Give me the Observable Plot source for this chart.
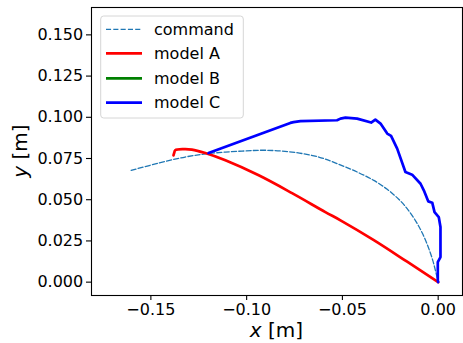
<!DOCTYPE html>
<html>
<head>
<meta charset="utf-8">
<script src="https://cdn.jsdelivr.net/npm/d3@7"></script>
<script src="https://cdn.jsdelivr.net/npm/@observablehq/plot@0.6"></script>
<style>
  html, body { margin: 0; padding: 0; background: #fff; }
  #chart { position: relative; width: 463px; height: 343px; }
</style>
</head>
<body>
<div id="chart"></div>
<script>
// Commanded end-effector path (dashed) and the tracked paths of each model, in metres.
const commandX = [-0.1603, -0.1460, -0.1321, -0.1199, -0.1024, -0.0902, -0.0763, -0.0624, -0.0519, -0.0423, -0.0336, -0.0266, -0.0206, -0.0162, -0.0118, -0.0083, -0.0052, -0.0029, -0.0012, 0.0];
const commandY = [0.0678, 0.0722, 0.0759, 0.0780, 0.0795, 0.0800, 0.0789, 0.0759, 0.0715, 0.0668, 0.0617, 0.0563, 0.0503, 0.0446, 0.0372, 0.0298, 0.0213, 0.0135, 0.0060, 0.0];

const modelAX = [-0.1382, -0.1378, -0.1373, -0.1329, -0.1286, -0.1216, -0.1111, -0.0937, -0.0763, -0.0589, -0.0510, -0.0336, -0.0162, 0.0];
const modelAY = [0.0769, 0.0785, 0.0800, 0.0807, 0.0804, 0.0783, 0.0739, 0.0648, 0.0540, 0.0425, 0.0375, 0.0255, 0.0124, 0.0];

const modelBX = [];
const modelBY = [];

const modelCX = [-0.1199, -0.0772, -0.0755, -0.0719, -0.0528, -0.0510, -0.0484, -0.0423, -0.0350, -0.0328, -0.0301, -0.0266, -0.0246, -0.0214, -0.0171, -0.0136, -0.0092, -0.0075, -0.0052, -0.0031, -0.0019, 0.0003, 0.0012, 0.0012, 0.0012, -0.0002, -0.0002, 0.0];
const modelCY = [0.0783, 0.0966, 0.0971, 0.0977, 0.0982, 0.0992, 0.0998, 0.0992, 0.0968, 0.0986, 0.0962, 0.0901, 0.0887, 0.0810, 0.0668, 0.0652, 0.0597, 0.0557, 0.0490, 0.0482, 0.0425, 0.0395, 0.0334, 0.0240, 0.0152, 0.0121, 0.0010, 0.0];

const seriesNames = ["command", "model A", "model B", "model C"];
const seriesColors = ["#1f77b4", "red", "green", "blue"];

const xTicks = [-0.15, -0.10, -0.05, 0.00];
const yTicks = [0.000, 0.025, 0.050, 0.075, 0.100, 0.125, 0.150];

const toRows = (xs, ys) => xs.map((x, i) => ({x, y: ys[i]}));
const command = toRows(commandX, commandY);
const modelA = toRows(modelAX, modelAY);
const modelB = toRows(modelBX, modelBY);
const modelC = toRows(modelCX, modelCY);

const W = 463, H = 343;
const mL = 91, mR = 1, mT = 7, mB = 48;
const font = "'DejaVu Sans', sans-serif";

const plot = Plot.plot({
  width: W,
  height: H,
  marginLeft: mL,
  marginRight: mR,
  marginTop: mT,
  marginBottom: mB,
  style: {fontFamily: font, fontSize: "16px", background: "#fff", color: "#000", overflow: "visible"},
  x: {domain: [-0.181, 0.0127], label: null},
  y: {domain: [-0.0081, 0.1666], label: null},
  marks: [
    Plot.line(command, {x: "x", y: "y", stroke: seriesColors[0], strokeWidth: 1.3, strokeDasharray: "5.1,2.2", curve: "catmull-rom"}),
    Plot.line(modelA, {x: "x", y: "y", stroke: seriesColors[1], strokeWidth: 2.7, curve: "catmull-rom"}),
    Plot.line(modelB, {x: "x", y: "y", stroke: seriesColors[2], strokeWidth: 2.7}),
    Plot.line(modelC, {x: "x", y: "y", stroke: seriesColors[3], strokeWidth: 2.7}),
    Plot.frame({stroke: "#000", strokeWidth: 1.1}),
    Plot.axisX({ticks: xTicks, tickFormat: d3.format(".2f"), tickSize: 5, tickPadding: 3.5, label: null, strokeWidth: 1.1}),
    Plot.axisY({ticks: yTicks, tickFormat: d3.format(".3f"), tickSize: 5, tickPadding: 3.3, label: null, strokeWidth: 1.1})
  ]
});

document.getElementById("chart").appendChild(plot);

// Axis titles with an italic variable name, and the legend in the upper left.
const svg = d3.select(plot);
const cx = mL + (W - mL - mR) / 2;
const cy = mT + (H - mT - mB) / 2;

const xl = svg.append("text")
  .attr("x", cx).attr("y", 337)
  .attr("text-anchor", "middle")
  .attr("font-family", font).attr("font-size", 20).attr("fill", "#000");
xl.append("tspan").attr("font-style", "italic").text("x");
xl.append("tspan").text(" [m]");

const yl = svg.append("text")
  .attr("transform", `translate(27,${cy}) rotate(-90)`)
  .attr("text-anchor", "middle")
  .attr("font-family", font).attr("font-size", 20).attr("fill", "#000");
yl.append("tspan").attr("font-style", "italic").text("y");
yl.append("tspan").text(" [m]");

const lg = svg.append("g");
lg.append("rect")
  .attr("x", 100.7).attr("y", 16).attr("width", 142.6).attr("height", 102)
  .attr("rx", 3).attr("fill", "#fff").attr("fill-opacity", 0.8)
  .attr("stroke", "#d6d6d6").attr("stroke-width", 1);
const rowsY = [29.3, 53.3, 78.3, 102.7];
seriesNames.forEach((name, i) => {
  lg.append("line")
    .attr("x1", 106).attr("x2", 142).attr("y1", rowsY[i]).attr("y2", rowsY[i])
    .attr("stroke", seriesColors[i])
    .attr("stroke-width", i === 0 ? 1.3 : 2.7)
    .attr("stroke-dasharray", i === 0 ? "5.1,2.2" : null);
  lg.append("text")
    .attr("x", 154).attr("y", rowsY[i]).attr("dy", "0.35em")
    .attr("text-anchor", "start")
    .attr("font-family", font).attr("font-size", 16).attr("fill", "#000")
    .text(name);
});
</script>
</body>
</html>
